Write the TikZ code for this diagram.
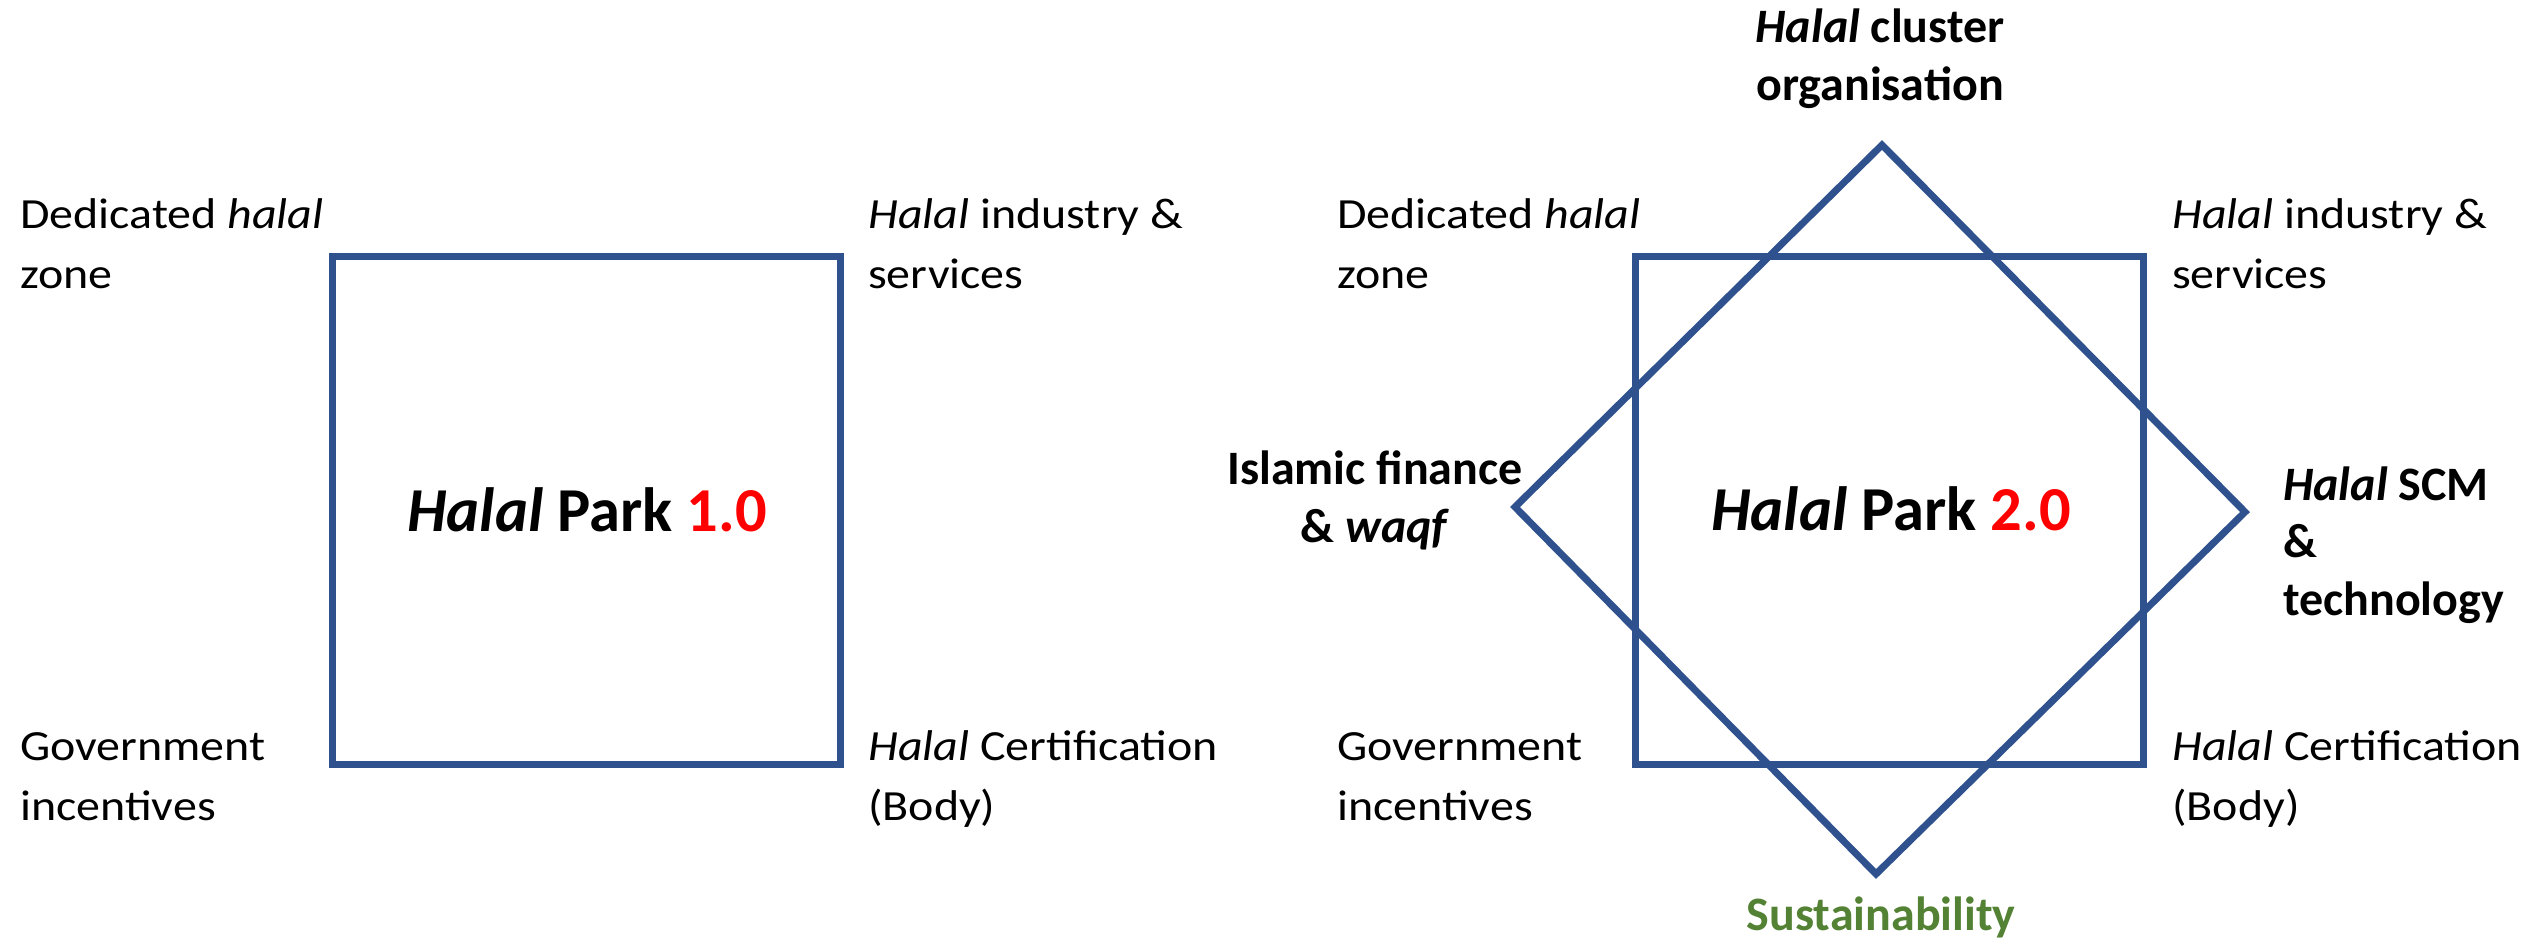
\documentclass[tikz,border=0pt]{standalone}
\usepackage{fontspec}
\setmainfont{Carlito}
\newfontfamily\lblfont{Carlito}[FakeStretch=1.115]
\definecolor{shapeblue}{HTML}{2F528F}
\definecolor{susgreen}{HTML}{548235}
\definecolor{vred}{HTML}{FF0000}
\begin{document}
\begin{tikzpicture}[x=1pt,y=-1pt,
  shapeline/.style={draw=shapeblue, line width=7pt, line join=miter},
  sq/.style={shapeline, minimum size=508pt, inner sep=0pt},
  lbl/.style={anchor=base west, inner sep=0pt, align=left, font=\lblfont\fontsize{43}{60}\selectfont},
  blbl/.style={inner sep=0pt, font=\fontsize{48}{57.5}\selectfont\bfseries},
  ttl/.style={anchor=base, inner sep=0pt, font=\fontsize{62.5}{70}\selectfont\bfseries}]
\useasboundingbox (0,0) rectangle (2539,945);

% ---- left: Halal Park 1.0
\node[sq] (sqA) at (586,510) {};
\node[ttl] (ttlA) at (587,531) {\textit{Halal} Park \textcolor{vred}{1.0}};
\node[lbl] (a1) at (20,288) {Dedicated \textit{halal}\\zone};
\node[lbl] (a2) at (868,288) {\textit{Halal} industry \&\\services};
\node[lbl] (a3) at (20,820) {Government\\incentives};
\node[lbl] (a4) at (868,820) {\textit{Halal} Certification\\(Body)};

% ---- right: Halal Park 2.0
\node[sq] (sqB) at (1889.5,510) {};
\coordinate (dT) at (1882,145);
\coordinate (dR) at (2245,512);
\coordinate (dB) at (1876,874);
\coordinate (dL) at (1515,507);
\draw[shapeline] (dT) -- (dR) -- (dB) -- (dL) -- cycle;
\node[ttl] (ttlB) at (1891,530) {\textit{Halal} Park \textcolor{vred}{2.0}};
\node[lbl] (b1) at (1337,288) {Dedicated \textit{halal}\\zone};
\node[lbl] (b2) at (2172,288) {\textit{Halal} industry \&\\services};
\node[lbl] (b3) at (1337,820) {Government\\incentives};
\node[lbl] (b4) at (2172,820) {\textit{Halal} Certification\\(Body)};

\node[blbl, anchor=base, align=center] (top) at (1880,100) {\textit{Halal} cluster\\organisation};
\node[blbl, anchor=base, align=center] (fin) at (1375,542) {Islamic finance\\\& \textit{waqf}};
\node[blbl, anchor=base west, align=left] (scm) at (2283,615) {\textit{Halal} SCM\\\&\\technology};
\node[blbl, anchor=base, text=susgreen] (sus) at (1881,930) {Sustainability};
\end{tikzpicture}
\end{document}
